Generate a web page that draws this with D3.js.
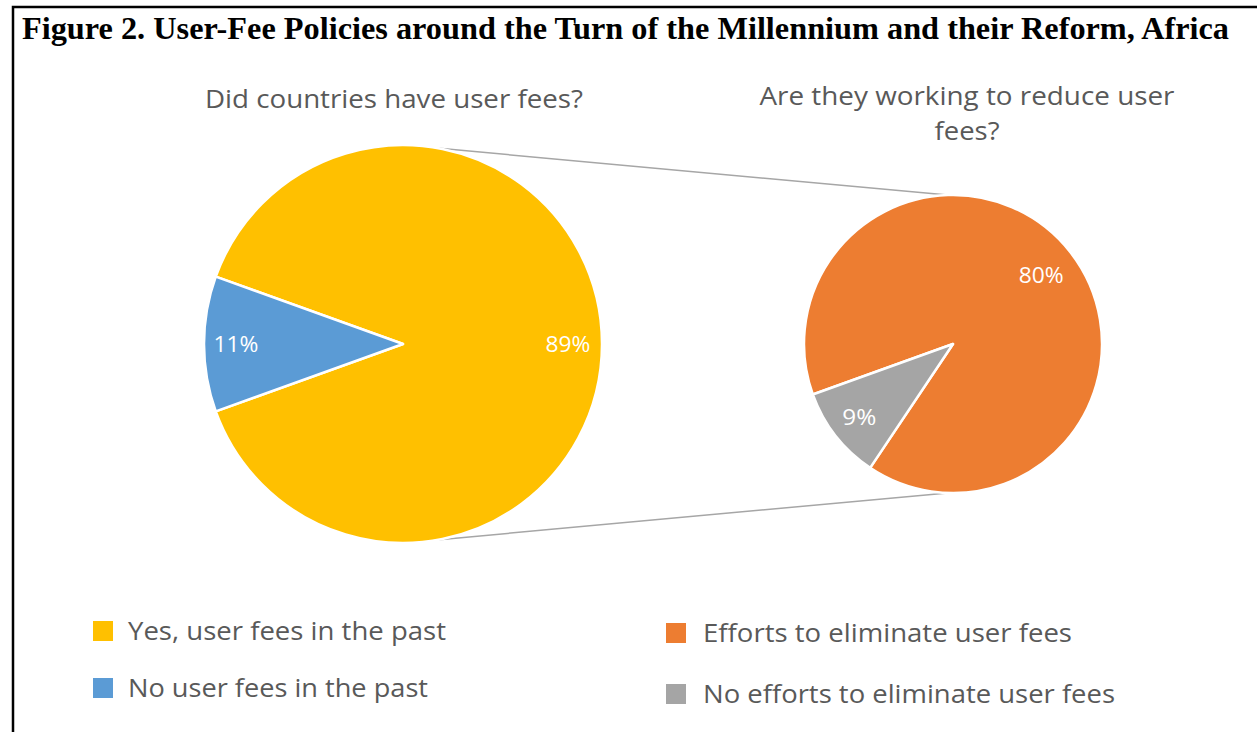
<!DOCTYPE html>
<html><head><meta charset="utf-8">
<script src="https://cdn.jsdelivr.net/npm/d3@7"></script>
<style>body{margin:0;background:#fff} svg{display:block}</style>
</head><body><svg id="c" width="1257" height="732"></svg>
<script>
// ---- data ----
const titleText = "Figure 2. User-Fee Policies around the Turn of the Millennium and their Reform, Africa";
const leftTitle = ["Did countries have user fees?"];
const rightTitle = ["Are they working to reduce user", "fees?"];
const leftCategories = ["Yes, user fees in the past", "No user fees in the past"];
const leftValues = [89, 11];
const rightCategories = ["Efforts to eliminate user fees", "No efforts to eliminate user fees"];
const rightValues = [80, 9];
const leftColors = ["#FFC000", "#5B9BD5"];
const rightColors = ["#ED7D31", "#A5A5A5"];

// ---- layout ----
const svg = d3.select("#c");
const FONT = "'Open Sans','Noto Sans',sans-serif";
const TXT = "#595959";
const deg = Math.PI / 180;

// frame
svg.append("path").attr("d", "M13,740 L13,7 L1270,7")
  .attr("fill", "none").attr("stroke", "#000").attr("stroke-width", 2.5);

// title
svg.append("text").text(titleText)
  .attr("x", 22).attr("y", 39)
  .attr("font-family", "'Liberation Serif','Times New Roman',serif")
  .attr("font-weight", "bold").attr("font-size", 31).attr("fill", "#000")
  .attr("textLength", 1207).attr("lengthAdjust", "spacingAndGlyphs");

const L = {cx: 403, cy: 344, r: 199};
const R = {cx: 953, cy: 344, r: 149};

const leftTotal = d3.sum(leftValues);
const half = Math.PI * leftValues[1] / leftTotal;
const leftStart = 1.5 * Math.PI + half;
const rightStart = 1.5 * Math.PI - half;

const pieL = d3.pie().sort(null).startAngle(leftStart).endAngle(leftStart + 2 * Math.PI);
const pieR = d3.pie().sort(null).startAngle(rightStart).endAngle(rightStart + 2 * Math.PI);

const arcL = d3.arc().innerRadius(0).outerRadius(L.r);
const arcR = d3.arc().innerRadius(0).outerRadius(R.r);

// connector lines
function pt(c, ang) { return [c.cx + c.r * Math.sin(ang), c.cy - c.r * Math.cos(ang)]; }
const connectors = [[pt(L, 10.5 * deg), pt(R, -2 * deg)], [pt(L, 169.5 * deg), pt(R, 182 * deg)]];
svg.selectAll("line.conn").data(connectors).join("line").attr("class", "conn")
  .attr("x1", d => d[0][0]).attr("y1", d => d[0][1])
  .attr("x2", d => d[1][0]).attr("y2", d => d[1][1])
  .attr("stroke", "#a6a6a6").attr("stroke-width", 1.5);

function drawPie(c, pie, arc, values, colors, labelR) {
  const g = svg.append("g").attr("transform", `translate(${c.cx},${c.cy})`);
  const arcs = pie(values);
  g.selectAll("path").data(arcs).join("path")
    .attr("d", arc).attr("fill", (d, i) => colors[i])
    .attr("stroke", "#fff").attr("stroke-width", 2.5).attr("stroke-linejoin", "round");
  g.selectAll("text").data(arcs).join("text")
    .attr("x", (d, i) => labelR[i] * Math.sin((d.startAngle + d.endAngle) / 2))
    .attr("y", (d, i) => -labelR[i] * Math.cos((d.startAngle + d.endAngle) / 2))
    .attr("dy", "0.35em").attr("text-anchor", "middle")
    .attr("font-family", FONT).attr("font-size", 22.5).attr("fill", "#fff")
    .attr("textLength", d => d.data >= 10 ? 45 : 34).attr("lengthAdjust", "spacingAndGlyphs")
    .text(d => d.data + "%");
}
drawPie(L, pieL, arcL, leftValues, leftColors, [165, 167]);
drawPie(R, pieR, arcR, rightValues, rightColors, [112, 119]);

// subtitles
function subtitle(lines, cx, y0, widths) {
  svg.selectAll(null).data(lines).join("text")
    .attr("x", cx).attr("y", (d, i) => y0 + i * 35)
    .attr("text-anchor", "middle")
    .attr("font-family", FONT).attr("font-size", 26).attr("fill", TXT)
    .attr("textLength", (d, i) => widths[i]).attr("lengthAdjust", "spacingAndGlyphs")
    .text(d => d);
}
subtitle(leftTitle, 394, 108, [378]);
subtitle(rightTitle, 967, 105, [415, 65]);

// legends
function legend(cats, colors, sx, tx, ys, widths) {
  const g = svg.append("g");
  g.selectAll("rect").data(cats).join("rect")
    .attr("x", sx).attr("y", (d, i) => ys[i] - 10).attr("width", 20).attr("height", 20)
    .attr("fill", (d, i) => colors[i]);
  g.selectAll("text").data(cats).join("text")
    .attr("x", tx).attr("y", (d, i) => ys[i]).attr("dy", "0.36em")
    .attr("font-family", FONT).attr("font-size", 26).attr("fill", TXT)
    .attr("textLength", (d, i) => widths[i]).attr("lengthAdjust", "spacingAndGlyphs")
    .text(d => d);
}
legend(leftCategories, leftColors, 93, 128, [631, 688], [318, 300]);
legend(rightCategories, rightColors, 666, 703, [633, 694], [369, 412]);
</script></body></html>
